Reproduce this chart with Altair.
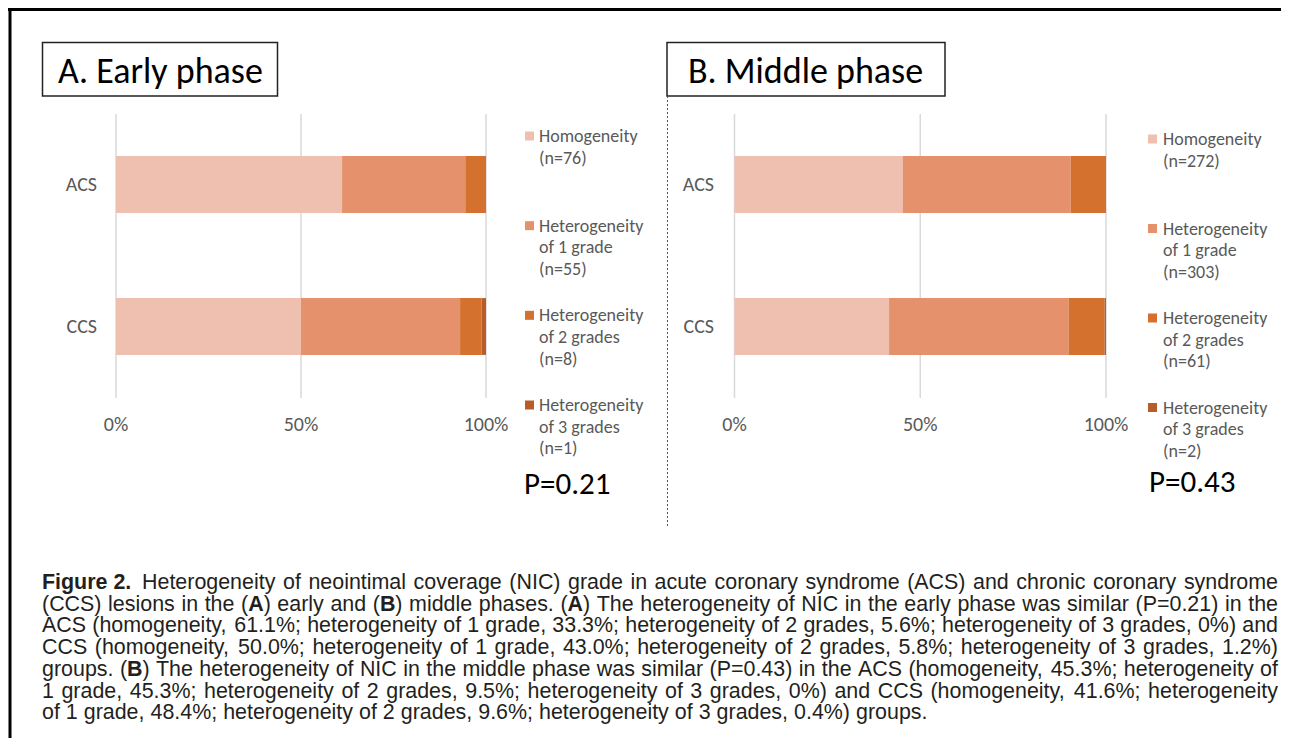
import altair as alt
import pandas as pd

# ---------------- data ----------------
groups = ["ACS", "CCS"]
grades = ["Homogeneity", "Heterogeneity of 1 grade",
          "Heterogeneity of 2 grades", "Heterogeneity of 3 grades"]
legend_names = ["Homogeneity", "Heterogeneity\nof 1 grade",
                "Heterogeneity\nof 2 grades", "Heterogeneity\nof 3 grades"]
early_acs = [61.1, 33.3, 5.6, 0.0]
early_ccs = [50.0, 43.0, 5.8, 1.2]
middle_acs = [45.3, 45.3, 9.5, 0.0]
middle_ccs = [41.6, 48.4, 9.6, 0.4]
early_n = [76, 55, 8, 1]
middle_n = [272, 303, 61, 2]
tick_values = [0.0, 0.5, 1.0]
tick_labels = ["0%", "50%", "100%"]
panel_titles = ["A. Early phase", "B. Middle phase"]
p_values = ["P=0.21", "P=0.43"]
colors = ["#EFBFAF", "#E5926C", "#D4712E", "#B65D2A"]

caption_lines = [
    "**Figure 2.**\tHeterogeneity of neointimal coverage (NIC) grade in acute coronary syndrome (ACS) and chronic coronary syndrome",
    "(CCS) lesions in the (**A**) early and (**B**) middle phases. (**A**) The heterogeneity of NIC in the early phase was similar (P=0.21) in the",
    "ACS (homogeneity, 61.1%; heterogeneity of 1 grade, 33.3%; heterogeneity of 2 grades, 5.6%; heterogeneity of 3 grades, 0%) and",
    "CCS (homogeneity, 50.0%; heterogeneity of 1 grade, 43.0%; heterogeneity of 2 grades, 5.8%; heterogeneity of 3 grades, 1.2%)",
    "groups. (**B**) The heterogeneity of NIC in the middle phase was similar (P=0.43) in the ACS (homogeneity, 45.3%; heterogeneity of",
    "1 grade, 45.3%; heterogeneity of 2 grades, 9.5%; heterogeneity of 3 grades, 0%) and CCS (homogeneity, 41.6%; heterogeneity",
    "of 1 grade, 48.4%; heterogeneity of 2 grades, 9.6%; heterogeneity of 3 grades, 0.4%) groups.",
]

W, H = 1273, 730
FIG_FONT = "Carlito, Lato, sans-serif"
CAP_FONT = "Liberation Sans, Arial, Helvetica, sans-serif"
GREY = "#595959"

base = pd.DataFrame({"a": [0]})


def deco(df=None):
    return alt.Chart(base if df is None else df)


def panel(acs, ccs, counts, x0, x1, cat_x, sq_x, txt_x, ly0, ly1, p_x, p_y, p_text):
    rows = []
    for gname, vals in zip(groups, [acs, ccs]):
        for i, (g, v) in enumerate(zip(grades, vals)):
            rows.append({"group": gname, "grade": g, "order": i, "value": v})
    bars_df = pd.DataFrame(rows)
    ticks_df = pd.DataFrame({"t": tick_values, "label": tick_labels})
    cat_df = pd.DataFrame({"group": groups})

    xs = alt.Scale(domain=[0, 1], range=[x0, x1])
    ys = alt.Scale(domain=groups, range=[105.5, 389.5], paddingInner=0.6, paddingOuter=0.3)
    cs = alt.Scale(domain=grades, range=colors)

    grid = alt.Chart(ticks_df).mark_rule(color="#D9D9D9", strokeWidth=1.5).encode(
        x=alt.X("t:Q", scale=xs, axis=None), y=alt.value(106), y2=alt.value(390))
    bars = alt.Chart(bars_df).mark_bar().encode(
        x=alt.X("value:Q", stack="normalize", scale=xs, axis=None),
        y=alt.Y("group:N", scale=ys, axis=None),
        color=alt.Color("grade:N", scale=cs, legend=None),
        order=alt.Order("order:Q"))
    tick_txt = alt.Chart(ticks_df).mark_text(font=FIG_FONT, fontSize=20, color=GREY,
                                            baseline="middle", align="center").encode(
        x=alt.X("t:Q", scale=xs, axis=None), y=alt.value(417), text="label:N")
    cat_txt = alt.Chart(cat_df).mark_text(font=FIG_FONT, fontSize=20, color=GREY,
                                         baseline="middle", align="right").encode(
        y=alt.Y("group:N", scale=ys, axis=None), x=alt.value(cat_x), text="group:N")
    main = alt.layer(grid, bars, tick_txt, cat_txt)

    leg_df = pd.DataFrame({
        "grade": grades,
        "label": [f"{nm}\n(n={n})" for nm, n in zip(legend_names, counts)],
    })
    ls = alt.Scale(type="point", domain=grades, range=[ly0, ly1], padding=0)
    sq = alt.Chart(leg_df).mark_square(size=81, opacity=1).encode(
        x=alt.value(sq_x), y=alt.Y("grade:N", scale=ls, axis=None),
        color=alt.Color("grade:N", scale=cs, legend=None))
    lt = alt.Chart(leg_df).mark_text(font=FIG_FONT, fontSize=18, color=GREY, align="left",
                                    baseline="alphabetic", dy=6, lineBreak="\n",
                                    lineHeight=21.7).encode(
        x=alt.value(txt_x), y=alt.Y("grade:N", scale=ls, axis=None), text="label:N")
    pt = alt.Chart(pd.DataFrame({"p": [p_text]})).mark_text(
        font=FIG_FONT, fontSize=31, color="#000", align="left", baseline="middle").encode(
        x=alt.value(p_x), y=alt.value(p_y), text="p:N")
    legend = alt.layer(sq, lt, pt)
    return main, legend


a_main, a_leg = panel(early_acs, early_ccs, early_n, 108, 478, 89, 521.5, 531, 128, 397,
                      516, 477, p_values[0])
b_main, b_leg = panel(middle_acs, middle_ccs, middle_n, 726.5, 1098, 706, 1144.5, 1155,
                      131, 399.5, 1141, 475, p_values[1])


def title_box(x0, x1, tx, text):
    box = deco().mark_rect(fill="white", stroke="#222", strokeWidth=1.5).encode(
        x=alt.value(x0), x2=alt.value(x1), y=alt.value(34.5), y2=alt.value(88))
    txt = deco(pd.DataFrame({"t": [text]})).mark_text(
        font=FIG_FONT, fontSize=36, color="#000", align="left", baseline="alphabetic").encode(
        x=alt.value(tx), y=alt.value(75), text="t:N")
    return alt.layer(box, txt)


t_a = title_box(34.5, 269.5, 50, panel_titles[0])
t_b = title_box(659, 937, 680, panel_titles[1])

divider = deco().mark_rule(color="#555", strokeWidth=1, strokeDash=[2, 2]).encode(
    x=alt.value(659.5), y=alt.value(88), y2=alt.value(520))
top_border = deco().mark_rule(color="#000", strokeWidth=3).encode(
    x=alt.value(0), x2=alt.value(W), y=alt.value(1.5))
left_border = deco().mark_rule(color="#000", strokeWidth=3).encode(
    x=alt.value(2), y=alt.value(0), y2=alt.value(H))

# ---------------- caption layout (Arial / Liberation Sans metrics) ----------------
REG = dict(zip(" ()%,.;=-:", [278, 333, 333, 889, 278, 278, 278, 584, 333, 278]))
REG.update({d: 556 for d in "0123456789"})
REG.update(dict(zip("ABCDEFGHIJKLMNOPQRSTUVWXYZ",
                    [667, 667, 722, 722, 667, 611, 778, 722, 278, 500, 667, 556, 833,
                     722, 778, 667, 778, 722, 667, 611, 722, 667, 944, 667, 667, 611])))
REG.update(dict(zip("abcdefghijklmnopqrstuvwxyz",
                    [556, 556, 500, 556, 556, 278, 556, 556, 222, 222, 500, 222, 833,
                     556, 556, 556, 556, 333, 500, 278, 556, 500, 722, 500, 500, 500])))
BOLD = dict(REG)
BOLD.update(dict(zip("ABF", [722, 722, 611])))
BOLD.update(dict(zip("abcdefghijklmnopqrstuvwxyz",
                     [556, 611, 556, 611, 556, 333, 611, 611, 278, 278, 556, 278, 889,
                      611, 611, 611, 611, 389, 556, 333, 611, 556, 778, 556, 556, 500])))


def run_w(t, bold):
    tab = BOLD if bold else REG
    return sum(tab.get(c, 556) for c in t) / 1000.0


def parse(line):
    words = [[]]
    bold = False
    i = 0
    while i < len(line):
        if line.startswith("**", i):
            bold = not bold
            i += 2
            continue
        ch = line[i]
        if ch == " " and not bold:
            words.append([])
        else:
            w = words[-1]
            if w and w[-1][1] == bold:
                w[-1] = (w[-1][0] + ch, bold)
            else:
                w.append((ch, bold))
        i += 1
    return words


def words_w(words):
    return sum(run_w(t, b) for w in words for t, b in w)


def nat_em(words):
    return words_w(words) + (len(words) - 1) * 0.278


CAP_L, CAP_R = 34.0, 1270.0
HEAD_GAP = 100.0        # line 1 text after "Figure 2." starts this far from the left

# largest size at which every justified line still fits
limits = []
for line in caption_lines[:-1]:
    if "\t" in line:
        tail = line.split("\t")[1]
        limits.append((CAP_R - CAP_L - HEAD_GAP) / nat_em(parse(tail)))
    else:
        limits.append((CAP_R - CAP_L) / nat_em(parse(line)))
fs = min(limits) * 0.997

cap_rows = []


def place(words, x_start, x_end, y, justify):
    gaps = len(words) - 1
    if justify and gaps > 0:
        gap = (x_end - x_start - words_w(words) * fs) / gaps
    else:
        gap = 0.278 * fs
    x = x_start
    for w in words:
        for t, b in w:
            cap_rows.append({"x": x, "y": y, "text": t, "bold": b})
            x += run_w(t, b) * fs
        x += gap


for li, line in enumerate(caption_lines):
    y = 575 + 21.7 * li
    justify = li < len(caption_lines) - 1
    if "\t" in line:
        head, tail = line.split("\t")
        place(parse(head), CAP_L, CAP_L + HEAD_GAP, y, False)
        place(parse(tail), CAP_L + HEAD_GAP, CAP_R, y, justify)
    else:
        place(parse(line), CAP_L, CAP_R, y, justify)
cap_df = pd.DataFrame(cap_rows)

cap_reg = alt.Chart(cap_df[~cap_df["bold"]]).mark_text(
    font=CAP_FONT, fontSize=fs, color="#231F20", align="left", baseline="middle").encode(
    x=alt.X("x:Q", scale=None), y=alt.Y("y:Q", scale=None), text="text:N")
cap_bold = alt.Chart(cap_df[cap_df["bold"]]).mark_text(
    font=CAP_FONT, fontSize=fs, fontWeight="bold", color="#231F20",
    align="left", baseline="middle").encode(
    x=alt.X("x:Q", scale=None), y=alt.Y("y:Q", scale=None), text="text:N")

chart = alt.layer(
    a_main, a_leg, b_main, b_leg, t_a, t_b, divider, top_border, left_border,
    cap_reg, cap_bold,
).resolve_scale(x="independent", y="independent", color="independent").properties(
    width=W, height=H, padding=0, autosize=alt.AutoSizeParams(type="none"),
    background="white",
).configure_view(stroke=None)

chart.save("out.html", embed_options={"renderer": "svg", "actions": False})
